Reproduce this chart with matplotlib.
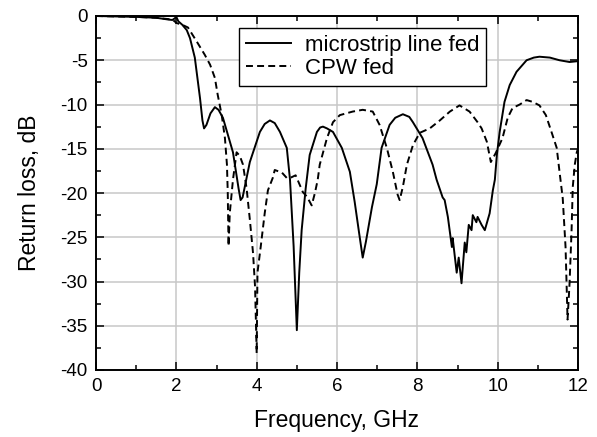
import matplotlib
matplotlib.use("Agg")
import matplotlib.pyplot as plt
from matplotlib.ticker import MultipleLocator

plt.rcParams['font.family'] = ['Liberation Sans', 'DejaVu Sans']
plt.rcParams['axes.unicode_minus'] = False
plt.rcParams['lines.scale_dashes'] = False

# microstrip line fed (solid)
ms_freq = [0, 0.5, 1.0, 1.5, 1.8, 1.9, 1.95, 2.0, 2.05, 2.15, 2.26, 2.34, 2.46, 2.59, 2.65, 2.69,
           2.75, 2.85, 2.96, 3.05, 3.16, 3.41, 3.55, 3.6, 3.65, 3.83, 4.08, 4.2, 4.33, 4.45, 4.58,
           4.75, 4.83, 4.92, 5.0, 5.06, 5.12, 5.22, 5.32, 5.5, 5.58, 5.65, 5.75, 5.9, 6.12, 6.32,
           6.44, 6.55, 6.64, 6.72, 6.87, 6.99, 7.11, 7.31, 7.45, 7.64, 7.8, 7.89, 8.13, 8.38, 8.48,
           8.63, 8.68, 8.76, 8.86, 8.88, 8.98, 9.03, 9.1, 9.18, 9.22, 9.28, 9.35, 9.38, 9.47, 9.5,
           9.6, 9.68, 9.8, 9.88, 9.93, 9.98, 10.05, 10.17, 10.3, 10.47, 10.72, 10.9, 11.04, 11.3,
           11.54, 11.79, 12.0]
ms_db = [0, -0.05, -0.1, -0.2, -0.4, -0.45, -0.3, -0.1, -0.6, -1.0, -1.6, -2.5, -4.7, -9.3, -11.8, -12.7,
         -12.3, -11.0, -10.3, -10.6, -11.5, -15.4, -19.5, -20.8, -20.5, -16.5, -13.1, -12.2, -11.8, -12.1, -13.1,
         -14.9, -18.5, -26.0, -35.5, -29.0, -24.2, -19.5, -15.7, -13.1, -12.6, -12.5, -12.7, -13.1, -14.9, -17.6,
         -21.0, -24.5, -27.3, -25.5, -21.6, -19.0, -14.9, -12.3, -11.5, -11.1, -11.4, -12.0, -13.8, -16.8, -18.5,
         -20.5, -20.8, -22.7, -26.1, -25.1, -29.0, -27.3, -30.2, -25.6, -26.7, -23.6, -24.2, -22.5, -23.3, -22.7,
         -23.6, -24.2, -22.3, -19.7, -18.5, -15.7, -13.1, -9.7, -7.8, -6.3, -5.0, -4.7, -4.6, -4.7,
         -5.0, -5.2, -5.1]

# CPW fed (dashed)
cpw_freq = [0, 0.5, 1.0, 1.5, 1.8, 1.9, 2.01, 2.15, 2.29, 2.51, 2.71, 2.84, 2.96, 3.03, 3.13,
            3.21, 3.26, 3.28, 3.3, 3.33, 3.41, 3.5, 3.58, 3.66, 3.75, 3.83, 3.91, 3.96, 3.98,
            4.0, 4.02, 4.1, 4.2, 4.28, 4.4, 4.45, 4.63, 4.75, 4.83, 4.97, 5.15, 5.25, 5.37,
            5.45, 5.52, 5.57, 5.75, 5.9, 6.07, 6.39, 6.64, 6.89, 7.06, 7.24, 7.39, 7.51, 7.56,
            7.64, 7.74, 7.89, 8.06, 8.31, 8.56, 8.81, 9.05, 9.3, 9.5, 9.6, 9.73, 9.83, 9.95,
            10.12, 10.25, 10.37, 10.55, 10.72, 10.87, 11.04, 11.2, 11.34, 11.47, 11.54, 11.62,
            11.69, 11.72, 11.74, 11.79, 11.84, 11.87, 11.92, 11.97, 12.0]
cpw_db = [0, -0.05, -0.1, -0.2, -0.35, -0.4, -0.8, -1.0, -1.3, -2.9, -4.4, -5.5, -7.0, -8.9, -11.2,
          -13.8, -16.8, -19.9, -26.0, -22.3, -18.5, -15.4, -15.8, -16.8, -19.5, -23.0, -26.8, -30.6, -34.3,
          -38.1, -29.0, -26.1, -22.3, -19.7, -18.3, -17.4, -17.7, -18.3, -18.3, -18.0, -19.9, -20.4, -21.4,
          -20.0, -18.5, -16.8, -13.8, -12.0, -11.2, -10.8, -10.6, -10.8, -12.3, -14.9, -17.6, -20.2, -20.8,
          -19.3, -16.8, -14.6, -13.2, -12.7, -11.8, -10.8, -10.1, -10.8, -12.0, -12.7, -14.2, -16.5, -15.5,
          -13.8, -11.5, -10.4, -10.0, -9.5, -9.7, -10.1, -11.2, -13.1, -14.9, -17.6, -20.6,
          -26.1, -31.0, -34.3, -30.2, -24.2, -19.3, -16.8, -15.4, -15.0]

x_ticks = [0, 2, 4, 6, 8, 10, 12]
y_ticks = [0, -5, -10, -15, -20, -25, -30, -35, -40]

fig = plt.figure(figsize=(5.97, 4.37), dpi=100)
ax = fig.add_axes([96/597, 1 - 370/437, 482/597, 354/437])

ax.plot(ms_freq, ms_db, color='black', lw=1.4, label='microstrip line fed')
ax.plot(cpw_freq, cpw_db, color='black', lw=1.4, linestyle=(0, (5, 3)), label='CPW fed')

ax.set_xlim(0, 12)
ax.set_ylim(-40, 0)
ax.set_xticks(x_ticks)
ax.set_yticks(y_ticks)
ax.xaxis.set_minor_locator(MultipleLocator(1))
ax.yaxis.set_minor_locator(MultipleLocator(2.5))
ax.grid(True, which='major', color='#c8c8c8', lw=1.1)
ax.set_axisbelow(True)
ax.tick_params(which='both', direction='in', top=True, right=True, width=1.1, labelsize=13.5, pad=6)
ax.tick_params(which='major', length=6)
ax.tick_params(which='minor', length=3.5)
for s in ax.spines.values():
    s.set_linewidth(1.4)

ax.set_xlabel('Frequency, GHz', fontsize=16.5, labelpad=10)
ax.set_ylabel('Return loss, dB', fontsize=16.5, labelpad=14)

leg = ax.legend(loc='upper left', bbox_to_anchor=(0.297, 0.966), borderaxespad=0,
                fontsize=16, frameon=True, fancybox=False, framealpha=1,
                edgecolor='black', handlelength=2.05, handletextpad=0.6,
                borderpad=0.3, labelspacing=0.1)
leg.get_frame().set_linewidth(1.0)

fig.savefig('out.png', dpi=100)
